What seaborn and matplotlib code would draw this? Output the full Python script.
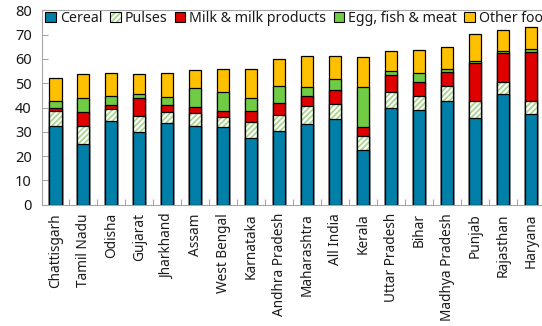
import matplotlib
matplotlib.use("Agg")
import matplotlib.pyplot as plt
from matplotlib.patches import Patch
from matplotlib.legend_handler import HandlerTuple
from matplotlib.ticker import MultipleLocator
import seaborn as sns
import pandas as pd
import numpy as np

states = ["Chattisgarh", "Tamil Nadu", "Odisha", "Gujarat", "Jharkhand", "Assam",
          "West Bengal", "Karnataka", "Andhra Pradesh", "Maharashtra", "All India",
          "Kerala", "Uttar Pradesh", "Bihar", "Madhya Pradesh", "Punjab",
          "Rajasthan", "Haryana"]
cereal = [32.4, 24.9, 34.4, 30.1, 33.8, 32.4, 32.1, 27.3, 30.3, 33.2, 35.1, 22.5,
          39.9, 39.0, 42.8, 35.6, 45.7, 37.2]
pulses = [6.2, 7.4, 4.8, 6.3, 4.2, 5.5, 3.9, 6.6, 6.6, 7.5, 6.2, 5.6,
          6.3, 5.6, 6.2, 7.1, 4.8, 5.5]
milk = [1.1, 5.7, 1.8, 7.5, 3.0, 2.3, 2.4, 4.7, 5.0, 4.2, 5.9, 4.0,
        7.0, 5.8, 5.5, 15.7, 12.1, 20.0]
egg = [3.0, 6.0, 3.9, 1.8, 3.3, 7.7, 7.8, 5.4, 7.1, 3.5, 4.4, 16.2,
       1.8, 3.7, 1.2, 0.9, 0.8, 1.4]
other = [9.3, 9.7, 9.2, 8.0, 10.0, 7.5, 9.8, 12.0, 11.0, 12.9, 9.7, 12.6,
         8.3, 9.4, 9.2, 10.8, 8.5, 9.2]

series_names = ["Cereal", "Pulses", "Milk & milk products", "Egg, fish & meat", "Other food"]
colors = ["#0080A8", "white", "#E00000", "#70CC44", "#FFC000"]
hatch_green = "#A9D68F"

df = pd.DataFrame({"State": states, "Cereal": cereal, "Pulses": pulses,
                   "Milk": milk, "Egg": egg, "Other": other})
cum = df[["Cereal", "Pulses", "Milk", "Egg", "Other"]].cumsum(axis=1)
cum.insert(0, "State", df["State"])

sns.set_theme(style="white")
plt.rcParams["font.family"] = ["Noto Sans", "DejaVu Sans"]
plt.rcParams["hatch.linewidth"] = 1.3
plt.rcParams["hatch.color"] = hatch_green

W, H = 542, 326
fig = plt.figure(figsize=(W / 100, H / 100), dpi=100)
x0, x1 = 41.5, 545.2
y0, y1 = 204.7, 10.3
ax = fig.add_axes([x0 / W, (H - y0) / H, (x1 - x0) / W, (y0 - y1) / H])

bw = 0.43
lw = 0.9
common = dict(data=cum, x="State", order=states, errorbar=None, width=bw,
              saturation=1, ax=ax)
sns.barplot(y="Other", color=colors[4], edgecolor="black", linewidth=lw, **common)
sns.barplot(y="Egg", color=colors[3], edgecolor="black", linewidth=lw, **common)
sns.barplot(y="Milk", color=colors[2], edgecolor="black", linewidth=lw, **common)
sns.barplot(y="Pulses", color="white", edgecolor=hatch_green, hatch="//////",
            linewidth=0, **common)
sns.barplot(y="Pulses", fill=False, edgecolor="black", linewidth=lw, **common)
sns.barplot(y="Cereal", color=colors[0], edgecolor="black", linewidth=lw, **common)

ax.set_xlim(-0.5, len(states) - 0.5)
ax.set_ylim(0, 80)
ax.set_xlabel("")
ax.set_ylabel("")
ax.yaxis.set_major_locator(MultipleLocator(10))
ax.tick_params(axis="y", direction="in", length=4, width=0.8, color="#A6A6A6",
               labelsize=10.5, labelcolor="#1a1a1a", pad=7, left=True)
ax.set_xticks(range(len(states)))
ax.set_xticklabels(states, rotation=90, fontsize=9.8, color="#1a1a1a")
ax.tick_params(axis="x", which="major", length=0, pad=6)
ax.set_xticks(np.arange(-0.5, len(states), 1.0), minor=True)
ax.tick_params(axis="x", which="minor", direction="in", length=4, width=0.8,
               color="#A6A6A6", bottom=True)
for s in ["left", "top", "bottom", "right"]:
    ax.spines[s].set_color("#A6A6A6")
    ax.spines[s].set_linewidth(0.8)

handles = []
for name, c in zip(series_names, colors):
    if name == "Pulses":
        handles.append((Patch(facecolor="white", edgecolor=hatch_green, hatch="//////",
                              linewidth=0),
                        Patch(fill=False, edgecolor="black", linewidth=0.8)))
    else:
        handles.append(Patch(facecolor=c, edgecolor="black", linewidth=0.8))
leg = ax.legend(handles=handles, labels=series_names, loc="upper left",
                bbox_to_anchor=(0.005, 1.005),
                handler_map={tuple: HandlerTuple(ndivide=1)},
                ncol=5, frameon=False, fontsize=10.2, handlelength=0.75,
                handleheight=0.75, handletextpad=0.3, columnspacing=0.5,
                borderaxespad=0, borderpad=0.1)
for t in leg.get_texts():
    t.set_color("#1a1a1a")

fig.savefig("out.png", dpi=100)
